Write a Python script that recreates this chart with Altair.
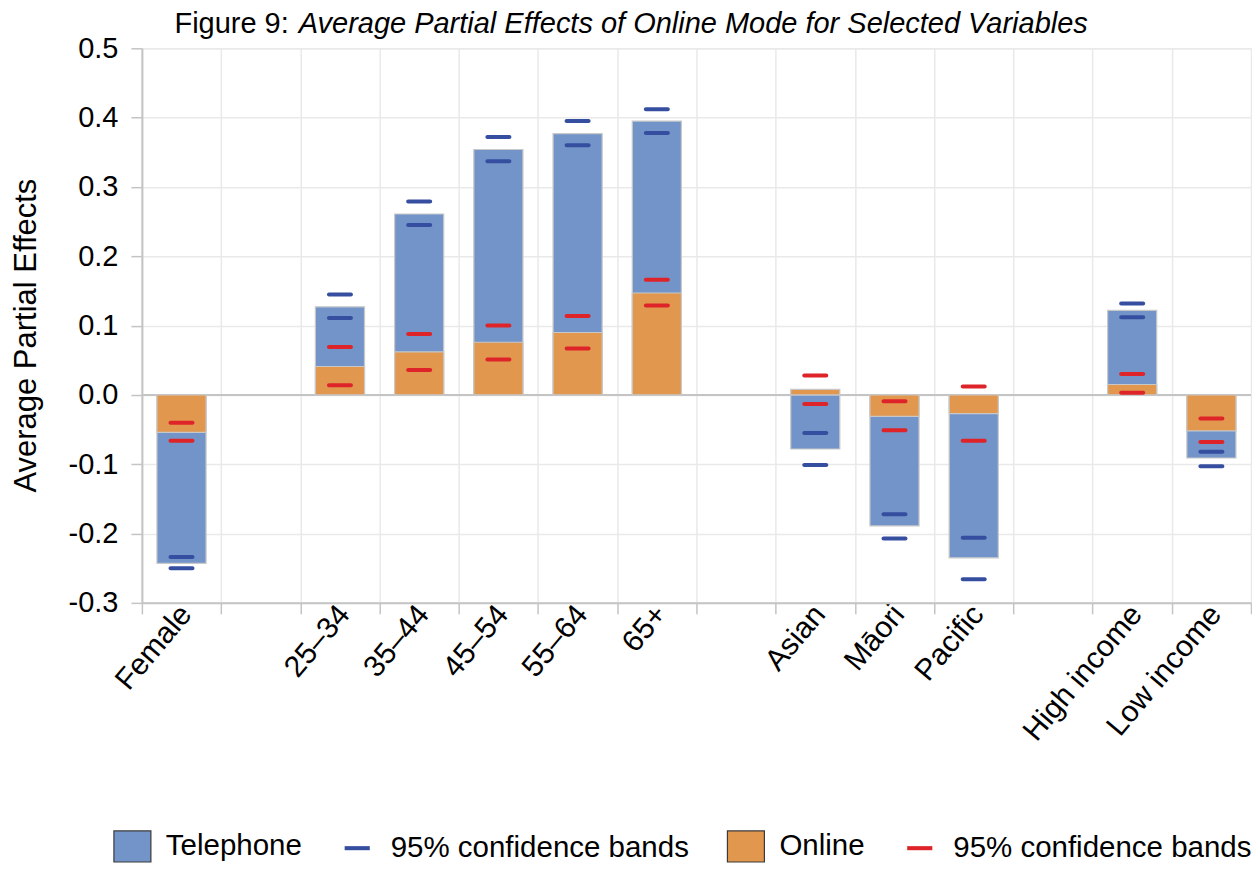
import altair as alt
import pandas as pd

# ---- data ----
categories = ["Female", "25–34", "35–44", "45–54", "55–64", "65+",
              "Asian", "Māori", "Pacific", "High income", "Low income"]
x_order = ["Female", " ", "25–34", "35–44", "45–54", "55–64", "65+", "  ",
           "Asian", "Māori", "Pacific", "   ", "High income", "Low income"]

telephone = [-0.243, 0.127, 0.261, 0.354, 0.377, 0.395, -0.078, -0.189, -0.235, 0.122, -0.091]
online = [-0.054, 0.041, 0.062, 0.076, 0.090, 0.147, 0.008, -0.031, -0.027, 0.015, -0.052]
tel_lo = [-0.250, 0.111, 0.245, 0.337, 0.360, 0.378, -0.101, -0.207, -0.266, 0.112, -0.103]
tel_hi = [-0.234, 0.145, 0.279, 0.372, 0.395, 0.412, -0.055, -0.172, -0.206, 0.132, -0.082]
onl_lo = [-0.066, 0.014, 0.036, 0.051, 0.067, 0.129, -0.013, -0.051, -0.066, 0.003, -0.068]
onl_hi = [-0.040, 0.069, 0.088, 0.100, 0.114, 0.166, 0.028, -0.009, 0.012, 0.030, -0.034]

y_ticks = [-0.3, -0.2, -0.1, 0.0, 0.1, 0.2, 0.3, 0.4, 0.5]

series_names = ["Telephone", "95% confidence bands", "Online", "95% confidence bands "]
series_colors = ["#7294C9", "#364EA0", "#E1974D", "#DE2429"]

title_left = "Figure 9:"
title_right = "Average Partial Effects of Online Mode for Selected Variables"
y_title = "Average Partial Effects"

FONT = "Liberation Sans"

# ---- tables ----
bars_df = pd.DataFrame({
    "category": categories * 2,
    "value": telephone + online,
    "series": ["Telephone"] * len(categories) + ["Online"] * len(categories),
})
ci_df = pd.DataFrame({
    "category": categories * 4,
    "value": tel_lo + tel_hi + onl_lo + onl_hi,
    "series": [series_names[1]] * (2 * len(categories)) + [series_names[3]] * (2 * len(categories)),
})
zero_df = pd.DataFrame({"value": [0.0]})
title_df = pd.DataFrame({"left": [title_left], "right": [title_right]})

x_enc = alt.X(
    "category:N",
    scale=alt.Scale(domain=x_order, paddingInner=0, paddingOuter=0),
    axis=alt.Axis(
        title=None, tickBand="extent", grid=True, gridColor="#e9e9e9", gridWidth=1.5,
        labelAngle=-50, labelAlign="right", labelBaseline="middle",
        labelFontSize=30, labelPadding=-5, labelOffset=4, tickSize=11, tickColor="#c4c4c4", tickWidth=1.5,
        domainColor="#c4c4c4", domainWidth=2,
    ),
)

y_scale = alt.Scale(domain=[-0.3, 0.5], nice=False, zero=False)
y_axis = alt.Axis(
    values=y_ticks, title=y_title, titleFontSize=31, titleFontWeight="normal",
    titleX=-115, titleY=287, titleAngle=-90, titleAlign="center", titleBaseline="middle",
    labelExpr="(datum.value < -0.00001 ? '-' : '') + format(abs(datum.value), '.1f')",
    labelFontSize=29, labelPadding=13, tickSize=11, tickColor="#c4c4c4", tickWidth=1.5,
    domainColor="#c4c4c4", domainWidth=2, grid=True, gridColor="#e9e9e9", gridWidth=1.5,
)

color_scale = alt.Scale(domain=series_names, range=series_colors)
legend = alt.Legend(
    title=None, orient="none", legendX=-29, legendY=779, direction="horizontal", columns=4,
    symbolType={"expr": "indexof(datum.value, '95%') >= 0 ? 'M-0.68,-0.11H0.68V0.11H-0.68Z' : 'M-1,-0.84H1V0.84H-1Z'"},
    symbolSize=1369,
    symbolStrokeColor={"expr": "indexof(datum.value, '95%') >= 0 ? 'transparent' : '#3a3a3a'"},
    symbolStrokeWidth=1.2, symbolOpacity=1,
    labelExpr="trim(datum.label)", labelFontSize=29.5, labelOffset=14, columnPadding=35,
    labelFont=FONT, labelColor="#000000", labelLimit=500,
)

zero_rule = alt.Chart(zero_df).mark_rule(color="#c4c4c4", strokeWidth=2).encode(
    y=alt.Y("value:Q", scale=y_scale, axis=y_axis)
)

bars = alt.Chart(bars_df).mark_bar(
    width={"band": 0.62}, stroke="#c8c8c8", strokeWidth=1.2
).encode(
    x=x_enc,
    y=alt.Y("value:Q", scale=y_scale, axis=y_axis, stack=None),
    color=alt.Color("series:N", scale=color_scale, legend=legend),
    order=alt.Order("order:Q"),
).transform_calculate(order="datum.series == 'Telephone' ? 0 : 1")

ticks = alt.Chart(ci_df).mark_tick(thickness=4, size=26, cornerRadius=2, opacity=1).encode(
    x=x_enc,
    y=alt.Y("value:Q", scale=y_scale, axis=y_axis),
    color=alt.Color("series:N", scale=color_scale, legend=legend),
)

t_left = alt.Chart(title_df).mark_text(
    align="right", baseline="alphabetic", fontSize=29, font=FONT, color="#000000"
).encode(x=alt.value(147), y=alt.value(-15), text="left:N")

t_right = alt.Chart(title_df).mark_text(
    align="left", baseline="alphabetic", fontSize=29, font=FONT, fontStyle="italic", color="#000000"
).encode(x=alt.value(157), y=alt.value(-15), text="right:N")

chart = alt.layer(zero_rule, bars, ticks, t_left, t_right).properties(
    width=1110, height=555,
    autosize=alt.AutoSizeParams(type="none"),
    padding={"left": 134, "top": 40, "right": 1, "bottom": 262},
).configure_view(
    stroke="#c4c4c4", strokeWidth=2
).configure_axis(
    labelFont=FONT, titleFont=FONT, labelColor="#000000", titleColor="#000000"
).configure(background="white")

chart.save("out.html", embed_options={"renderer": "svg", "actions": False})
